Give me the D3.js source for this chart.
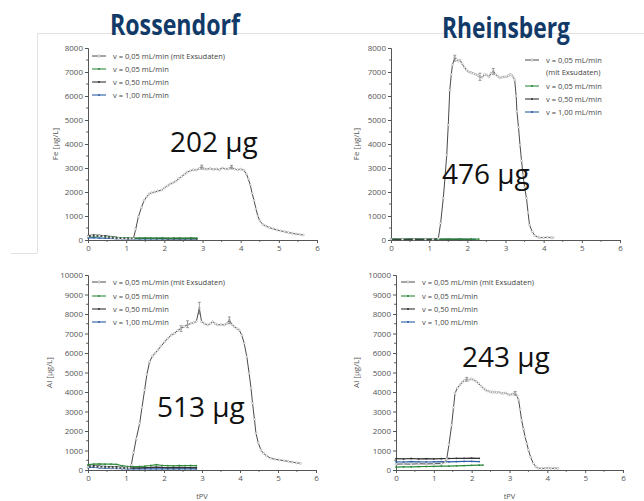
<!DOCTYPE html>
<html><head><meta charset="utf-8">
<script src="https://cdn.jsdelivr.net/npm/d3@7"></script>
<style>
html,body{margin:0;padding:0;background:#fff;}
svg{display:block;}
text{font-family:"Open Sans","DejaVu Sans",sans-serif;}
</style></head>
<body>
<script>
// ---------- DATA ----------
const xTicks = [0,1,2,3,4,5,6];
const feTicks = [0,1000,2000,3000,4000,5000,6000,7000,8000];
const alTicks = [0,1000,2000,3000,4000,5000,6000,7000,8000,9000,10000];
const seriesLabels = ["v = 0,05 mL/min (mit Exsudaten)","v = 0,05 mL/min","v = 0,50 mL/min","v = 1,00 mL/min"];
const titles = ["Rossendorf","Rheinsberg"];
const masses = ["202 µg","476 µg","513 µg","243 µg"];

// Fe Rossendorf
const feRossExs = [[0,150],[0.1,170],[0.2,180],[0.3,170],[0.4,150],[0.5,120],[0.6,100],[0.7,80],[0.8,70],[0.9,60],[1.0,55],[1.1,50],[1.19,60],[1.25,450],[1.32,970],[1.4,1350],[1.47,1650],[1.54,1800],[1.6,1920],[1.67,1970],[1.75,2000],[1.83,2040],[1.93,2080],[2.0,2170],[2.08,2250],[2.15,2330],[2.22,2380],[2.3,2450],[2.38,2560],[2.45,2640],[2.53,2740],[2.6,2830],[2.68,2880],[2.76,2930],[2.84,2920],[2.92,2980],[2.98,3050],[3.05,2960],[3.12,2950],[3.2,2980],[3.28,2940],[3.36,2960],[3.44,2930],[3.52,3000],[3.6,2960],[3.68,2970],[3.76,3040],[3.84,2950],[3.92,2930],[4.0,2950],[4.08,2910],[4.15,2750],[4.2,2550],[4.25,2300],[4.3,1950],[4.35,1650],[4.4,1300],[4.45,1000],[4.5,800],[4.58,650],[4.66,580],[4.75,520],[4.85,470],[4.95,420],[5.05,380],[5.15,350],[5.25,310],[5.35,280],[5.45,250],[5.55,230],[5.64,210]];
const feRossGreen = [[0,140],[0.15,150],[0.3,160],[0.45,140],[0.6,120],[0.75,100],[0.9,90],[1.05,80],[1.2,80],[1.35,80],[1.5,85],[1.65,80],[1.8,80],[1.95,85],[2.1,80],[2.25,80],[2.4,85],[2.55,80],[2.7,85],[2.85,80]];
const feRossBlack = [[0,180],[0.15,200],[0.3,190],[0.45,170],[0.6,140],[0.75,110],[0.9,90],[1.05,75],[1.2,70],[1.35,70],[1.5,65],[1.65,70],[1.8,65],[1.95,65],[2.1,60],[2.25,65],[2.4,60],[2.55,60],[2.7,65],[2.85,60]];
const feRossBlue = [[0,90],[0.15,100],[0.3,80],[0.45,75],[0.6,70],[0.75,60],[0.9,55],[1.05,50],[1.2,50],[1.35,50],[1.5,45],[1.65,50],[1.8,45],[1.95,45],[2.1,50],[2.25,45],[2.4,45],[2.55,50],[2.7,45],[2.85,45]];

// Fe Rheinsberg
const feRheinExs = [[0,30],[0.3,30],[0.6,30],[0.9,30],[1.1,30],[1.24,60],[1.3,700],[1.37,1740],[1.42,2700],[1.46,3540],[1.5,4790],[1.54,6250],[1.58,6900],[1.61,7290],[1.67,7600],[1.72,7520],[1.77,7450],[1.81,7500],[1.86,7350],[1.92,7200],[1.98,7080],[2.04,7000],[2.1,6980],[2.16,6940],[2.22,6900],[2.28,6850],[2.33,6800],[2.39,6780],[2.45,6900],[2.51,6870],[2.57,6800],[2.62,6950],[2.68,7040],[2.74,6900],[2.8,6820],[2.85,6760],[2.91,6780],[2.97,6800],[3.02,6800],[3.08,6850],[3.12,6900],[3.16,6870],[3.2,6800],[3.24,6670],[3.28,6000],[3.3,5350],[3.34,4700],[3.38,3960],[3.42,3300],[3.46,2710],[3.5,2200],[3.55,1740],[3.59,1150],[3.63,625],[3.7,350],[3.77,180],[3.85,120],[3.9,100],[4.0,100],[4.1,110],[4.2,100],[4.25,100]];
const feRheinGreen = [[0,40],[0.3,40],[0.6,35],[0.9,40],[1.2,35],[1.5,40],[1.8,35],[2.1,40],[2.3,40]];
const feRheinBlack = [[0,20],[0.3,20],[0.6,25],[0.9,20],[1.2,20],[1.5,25],[1.8,20],[2.1,20]];
const feRheinBlue = [[0,35],[0.3,30],[0.6,35],[0.9,30],[1.2,35],[1.5,30],[1.8,35],[2.1,30],[2.2,30]];

// Al Rossendorf
const alRossExs = [[0,150],[0.1,200],[0.2,180],[0.3,160],[0.4,150],[0.5,140],[0.6,130],[0.7,120],[0.8,110],[0.9,100],[1.0,100],[1.08,110],[1.14,256],[1.2,900],[1.27,1600],[1.36,2390],[1.42,3200],[1.49,4100],[1.55,4900],[1.62,5550],[1.7,5850],[1.77,6000],[1.84,6150],[1.92,6350],[2.02,6580],[2.1,6750],[2.19,6920],[2.27,7000],[2.36,7150],[2.45,7270],[2.53,7350],[2.62,7450],[2.71,7520],[2.78,7560],[2.85,7610],[2.93,8290],[2.99,7600],[3.07,7500],[3.15,7440],[3.22,7500],[3.28,7610],[3.35,7500],[3.41,7440],[3.5,7460],[3.59,7440],[3.66,7520],[3.72,7690],[3.79,7450],[3.85,7350],[3.92,7250],[3.98,7180],[4.05,6900],[4.11,6500],[4.18,5800],[4.24,4960],[4.29,4200],[4.33,3420],[4.38,2600],[4.42,1880],[4.48,1400],[4.55,1030],[4.62,850],[4.7,720],[4.81,600],[4.92,550],[5.04,510],[5.16,480],[5.27,440],[5.38,400],[5.49,370],[5.59,340]];
const alRossGreen = [[0,280],[0.15,300],[0.3,310],[0.45,300],[0.6,300],[0.75,290],[0.9,220],[1.05,180],[1.2,170],[1.35,180],[1.5,200],[1.65,230],[1.8,280],[1.95,230],[2.1,220],[2.25,210],[2.4,230],[2.55,220],[2.7,230],[2.85,220]];
const alRossBlack = [[0,200],[0.15,220],[0.3,200],[0.45,180],[0.6,170],[0.75,160],[0.9,140],[1.05,120],[1.2,110],[1.35,110],[1.5,120],[1.65,130],[1.8,150],[1.95,130],[2.1,120],[2.25,120],[2.4,130],[2.55,120],[2.7,120],[2.85,120]];
const alRossBlue = [[0,120],[0.15,140],[0.3,110],[0.45,100],[0.6,90],[0.75,80],[0.9,70],[1.05,60],[1.2,60],[1.35,60],[1.5,55],[1.65,60],[1.8,55],[1.95,55],[2.1,60],[2.25,55],[2.4,55],[2.55,60],[2.7,55],[2.85,55]];

// Al Rheinsberg
const alRheinExs = [[0,300],[0.2,310],[0.4,300],[0.6,320],[0.8,310],[1.0,320],[1.2,330],[1.3,400],[1.34,560],[1.4,1300],[1.47,2300],[1.52,3200],[1.56,3930],[1.62,4200],[1.69,4360],[1.75,4500],[1.81,4600],[1.87,4650],[1.93,4620],[1.99,4680],[2.05,4620],[2.12,4550],[2.18,4440],[2.25,4300],[2.31,4190],[2.37,4100],[2.43,4050],[2.49,4020],[2.55,3980],[2.61,4000],[2.66,3970],[2.72,3990],[2.78,3940],[2.84,3930],[2.9,3950],[2.96,3880],[3.02,3850],[3.08,3900],[3.15,3930],[3.2,3800],[3.24,3590],[3.28,3100],[3.32,2560],[3.37,2100],[3.41,1710],[3.46,1350],[3.5,1030],[3.56,650],[3.63,340],[3.7,160],[3.76,90],[3.85,80],[3.95,90],[4.03,100],[4.1,80],[4.2,90],[4.28,80]];
const alRheinGreen = [[0,150],[0.2,160],[0.4,165],[0.6,170],[0.8,180],[1.0,185],[1.2,195],[1.4,200],[1.6,215],[1.8,225],[2.0,240],[2.2,250],[2.3,255]];
const alRheinBlack = [[0,580],[0.2,570],[0.4,590],[0.6,570],[0.8,580],[1.0,570],[1.2,580],[1.4,590],[1.6,600],[1.8,600],[2.0,610],[2.2,600]];
const alRheinBlue = [[0,420],[0.2,410],[0.4,430],[0.6,420],[0.8,410],[1.0,420],[1.2,430],[1.4,420],[1.6,430],[1.8,440],[2.0,440],[2.2,430]];

// error bars [t, low, high]
const alRossErr = [[2.93,8000,8600],[2.62,7300,7650],[3.72,7500,7850],[2.45,7100,7400]];
const feRheinErr = [[1.67,7450,7700],[2.33,6650,6950],[2.68,6900,7150]];
const feRossErr = [[2.98,2950,3120],[3.76,2960,3110]];
const alRheinErr = [[1.87,4550,4750],[3.15,3830,4030]];

// ---------- DRAW ----------
const W=644,H=501;
const svg=d3.select("body").append("svg").attr("width",W).attr("height",H);
svg.append("rect").attr("width",W).attr("height",H).attr("fill","#fff");

// faint slide frame
const frame="#e2e2e2";
svg.append("line").attr("x1",37).attr("x2",644).attr("y1",33.5).attr("y2",33.5).attr("stroke",frame);
svg.append("line").attr("x1",37.5).attr("x2",37.5).attr("y1",33).attr("y2",253).attr("stroke",frame);
svg.append("line").attr("x1",11).attr("x2",37).attr("y1",253.5).attr("y2",253.5).attr("stroke",frame);

const colors={exs:"#353535",green:"#2f8a3c",black:"#333333",blue:"#2d5ea8"};

const panels=[
 {x0:88,x1:317,y0:240,y1:48,yMax:8000,ticks:feTicks,ylab:"Fe [µg/L]",ylabX:58,
  series:[feRossExs,feRossGreen,feRossBlack,feRossBlue],err:feRossErr,mass:masses[0],mx:170,my:152,
  legend:{x:92,ys:[56,69,82,95],split:false}},
 {x0:391,x1:620,y0:240,y1:48,yMax:8000,ticks:feTicks,ylab:"Fe [µg/L]",ylabX:359,
  series:[feRheinExs,feRheinGreen,feRheinBlack,feRheinBlue],err:feRheinErr,mass:masses[1],mx:442,my:184,
  legend:{x:525,ys:[60,86,99,112],split:true}},
 {x0:88,x1:316,y0:470,y1:275,yMax:10000,ticks:alTicks,ylab:"Al [µg/L]",ylabX:52,
  series:[alRossExs,alRossGreen,alRossBlack,alRossBlue],err:alRossErr,mass:masses[2],mx:157,my:417,
  legend:{x:92,ys:[282,296,309,322],split:false},xlab:true},
 {x0:396,x1:623,y0:470,y1:275,yMax:10000,ticks:alTicks,ylab:"Al [µg/L]",ylabX:359,
  series:[alRheinExs,alRheinGreen,alRheinBlack,alRheinBlue],err:alRheinErr,mass:masses[3],mx:462,my:367,
  legend:{x:401,ys:[282,296,309,322],split:false},xlab:true}
];

const serCol=[colors.exs,colors.green,colors.black,colors.blue];

panels.forEach(p=>{
  const x=d3.scaleLinear().domain([0,6]).range([p.x0,p.x1]);
  const y=d3.scaleLinear().domain([0,p.yMax]).range([p.y0,p.y1]);
  const g=svg.append("g");

  // axes
  const minorY=d3.range(0,p.yMax+1,500).filter(v=>v%1000!==0);
  const ay=g.append("g").attr("transform",`translate(${p.x0},0)`)
    .call(d3.axisLeft(y).tickValues(p.ticks).tickFormat(d3.format("d")).tickSize(3).tickPadding(2));
  ay.selectAll(".tick line").attr("stroke","#555");
  ay.append("g").selectAll("line").data(minorY).join("line")
    .attr("x1",0).attr("x2",-1.8).attr("y1",d=>y(d)).attr("y2",d=>y(d)).attr("stroke","#555");
  const ax=g.append("g").attr("transform",`translate(0,${p.y0})`)
    .call(d3.axisBottom(x).tickValues(xTicks).tickFormat(d3.format("d")).tickSize(3).tickPadding(2));
  ax.selectAll(".tick line").attr("stroke","#555");
  ax.append("g").selectAll("line").data([0.5,1.5,2.5,3.5,4.5,5.5]).join("line")
    .attr("x1",d=>x(d)).attr("x2",d=>x(d)).attr("y1",0).attr("y2",1.8).attr("stroke","#555");
  [ay,ax].forEach(a=>{
    a.select(".domain").attr("stroke","#555").attr("stroke-width",1);
    a.selectAll("text").attr("font-size",8).attr("fill","#555").attr("font-family","'Open Sans',sans-serif");
  });

  // y label
  g.append("text").attr("transform",`translate(${p.ylabX},${(p.y0+p.y1)/2}) rotate(-90)`)
    .attr("text-anchor","middle").attr("font-size",8).attr("fill","#555").text(p.ylab);
  if(p.xlab){
    g.append("text").attr("x",(p.x0+p.x1)/2).attr("y",499).attr("text-anchor","middle")
      .attr("font-size",7.5).attr("fill","#555").text("tPV");
  }

  const line=d3.line().x(d=>x(d[0])).y(d=>y(d[1]));
  const order=[3,2,1,0];
  order.forEach(i=>{
    const data=p.series[i];
    g.append("path").datum(data).attr("d",line).attr("fill","none")
      .attr("stroke",serCol[i]).attr("stroke-width",i===0?0.9:1.2);
    if(i===0){
      g.append("g").selectAll("circle").data(data).join("circle")
        .attr("cx",d=>x(d[0])).attr("cy",d=>y(d[1])).attr("r",1.05)
        .attr("fill","#fff").attr("stroke","#9a9a9a").attr("stroke-width",0.5);
    } else {
      g.append("g").selectAll("circle").data(data).join("circle")
        .attr("cx",d=>x(d[0])).attr("cy",d=>y(d[1])).attr("r",0.9)
        .attr("fill",serCol[i]);
    }
  });
  // error bars
  const eg=g.append("g").attr("stroke","#777").attr("stroke-width",0.7);
  p.err.forEach(e=>{
    eg.append("line").attr("x1",x(e[0])).attr("x2",x(e[0])).attr("y1",y(e[1])).attr("y2",y(e[2]));
    eg.append("line").attr("x1",x(e[0])-1.5).attr("x2",x(e[0])+1.5).attr("y1",y(e[2])).attr("y2",y(e[2]));
    eg.append("line").attr("x1",x(e[0])-1.5).attr("x2",x(e[0])+1.5).attr("y1",y(e[1])).attr("y2",y(e[1]));
  });

  // legend
  const lg=g.append("g");
  const L=p.legend;
  seriesLabels.forEach((lab,i)=>{
    const yy=L.ys[i];
    lg.append("line").attr("x1",L.x).attr("x2",L.x+14).attr("y1",yy).attr("y2",yy)
      .attr("stroke",serCol[i]).attr("stroke-width",i===0?0.9:1.1);
    lg.append("circle").attr("cx",L.x+7).attr("cy",yy).attr("r",i===0?1.2:1)
      .attr("fill",i===0?"#fff":serCol[i]).attr("stroke",i===0?"#888":"none").attr("stroke-width",0.5);
    if(i===0 && L.split){
      lg.append("text").attr("x",L.x+21).attr("y",yy+2.7).attr("font-size",7.5).attr("fill","#444").text("v = 0,05 mL/min");
      lg.append("text").attr("x",L.x+21).attr("y",yy+14.7).attr("font-size",7.5).attr("fill","#444").text("(mit Exsudaten)");
    } else {
      lg.append("text").attr("x",L.x+21).attr("y",yy+2.7).attr("font-size",7.5).attr("fill","#444").text(lab);
    }
  });

  // mass annotation
  g.append("text").attr("x",p.mx).attr("y",p.my).attr("font-family","Roboto,sans-serif")
    .attr("font-size",28).attr("fill","#111").text(p.mass);
});

// titles
svg.append("text").attr("x",110).attr("y",35).attr("font-family","Roboto,sans-serif").attr("font-weight",700)
  .attr("font-size",28).attr("fill","#123a68").attr("textLength",130).attr("lengthAdjust","spacingAndGlyphs").text(titles[0]);
svg.append("text").attr("x",442).attr("y",38).attr("font-family","Roboto,sans-serif").attr("font-weight",700)
  .attr("font-size",28).attr("fill","#123a68").attr("textLength",128).attr("lengthAdjust","spacingAndGlyphs").text(titles[1]);
</script>
</body></html>
